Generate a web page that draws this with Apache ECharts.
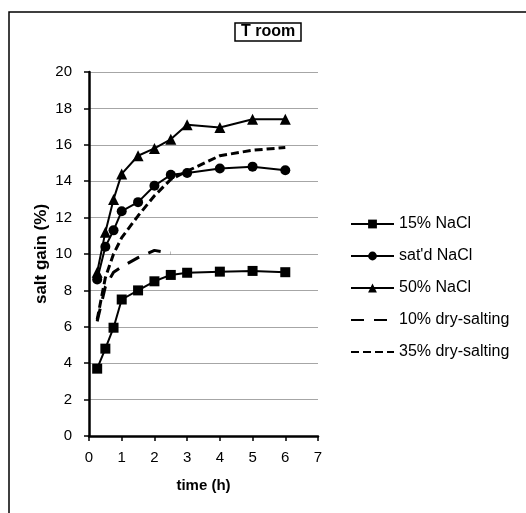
<!DOCTYPE html>
<html>
<head>
<meta charset="utf-8">
<script src="https://cdn.jsdelivr.net/npm/echarts@6/dist/echarts.min.js"></script>
<style>
  html, body { margin: 0; padding: 0; background: #fff; }
  #chart-container { width: 526px; height: 513px; }
</style>
</head>
<body>
<div id="chart-container"></div>
<script>
var dom = document.getElementById("chart-container");
var myChart = echarts.init(dom, null, { renderer: "canvas" });

// sampling times (h)
const times = [0.25, 0.5, 0.75, 1, 1.5, 2, 2.5, 3, 4, 5, 6];
const timesDry10 = [0.25, 0.5, 0.75, 1, 1.5, 2, 2.5];

// salt gain (%)
const nacl15 = [3.7, 4.8, 5.95, 7.5, 8.0, 8.5, 8.85, 8.97, 9.03, 9.07, 9.0];
const nacl_satd = [8.6, 10.4, 11.3, 12.35, 12.85, 13.75, 14.35, 14.45, 14.7, 14.8, 14.6];
const nacl50 = [9.0, 11.2, 13.0, 14.4, 15.4, 15.8, 16.3, 17.1, 16.95, 17.4, 17.4];
const dry10 = [6.3, 8.2, 9.0, 9.3, 9.8, 10.2, 10.05];
const dry35 = [6.4, 8.7, 10.0, 10.9, 12.1, 13.2, 14.1, 14.55, 15.4, 15.7, 15.85];

const seriesNames = ["15% NaCl", "sat'd NaCl", "50% NaCl", "10% dry-salting", "35% dry-salting"];

function pairs(xs, ys) {
  return ys.map((y, i) => [xs[i], y]);
}

const font = "Liberation Sans, Arial, sans-serif";

// dashed series get no marker in the legend
const legendData = seriesNames.map((n, i) =>
  i < 3 ? { name: n } : { name: n, itemStyle: { opacity: 0 } }
);

var option = {
  animation: false,
  backgroundColor: "#fff",
  textStyle: { fontFamily: font },
  title: {
    text: "T room",
    left: 235,
    top: 23,
    padding: [1, 6],
    borderColor: "#000",
    borderWidth: 1.5,
    textStyle: { fontSize: 16, fontWeight: "bold", color: "#000", fontFamily: font },
  },
  graphic: [
    {
      type: "rect",
      shape: { x: 9, y: 12, width: 530, height: 520 },
      style: { fill: null, stroke: "#000", lineWidth: 1.5 },
      silent: true,
    },
  ],
  grid: { left: 89, right: 208, top: 72, bottom: 77 },
  legend: {
    orient: "vertical",
    left: 345,
    top: 211,
    itemWidth: 43,
    itemHeight: 11,
    itemGap: 16,
    textStyle: { fontSize: 16, color: "#000", fontFamily: font },
    data: legendData,
  },
  xAxis: {
    type: "value",
    min: 0,
    max: 7,
    interval: 1,
    name: "time (h)",
    nameLocation: "middle",
    nameGap: 42,
    nameTextStyle: { fontSize: 15, fontWeight: "bold", color: "#000" },
    axisLine: { lineStyle: { color: "#000", width: 2.5 } },
    axisTick: { length: 5, lineStyle: { color: "#000", width: 1.5 } },
    axisLabel: { fontSize: 15, color: "#000", margin: 14 },
    splitLine: { show: false },
  },
  yAxis: {
    type: "value",
    min: 0,
    max: 20,
    interval: 2,
    name: "salt gain (%)",
    nameLocation: "middle",
    nameGap: 39,
    nameTextStyle: { fontSize: 17, fontWeight: "bold", color: "#000" },
    axisLine: { show: true, lineStyle: { color: "#000", width: 2.5 } },
    axisTick: { show: true, length: 5, lineStyle: { color: "#000", width: 1.5 } },
    axisLabel: { fontSize: 15, color: "#000", margin: 17 },
    splitLine: { lineStyle: { color: "#a6a6a6", width: 1 } },
  },
  series: [
    {
      name: seriesNames[0],
      type: "line",
      data: pairs(times, nacl15),
      symbol: "rect",
      symbolSize: 10,
      itemStyle: { color: "#000" },
      lineStyle: { color: "#000", width: 2 },
    },
    {
      name: seriesNames[1],
      type: "line",
      data: pairs(times, nacl_satd),
      symbol: "circle",
      symbolSize: 10,
      itemStyle: { color: "#000" },
      lineStyle: { color: "#000", width: 2 },
    },
    {
      name: seriesNames[2],
      type: "line",
      data: pairs(times, nacl50),
      symbol: "triangle",
      symbolSize: 11,
      itemStyle: { color: "#000" },
      lineStyle: { color: "#000", width: 2 },
    },
    {
      name: seriesNames[3],
      type: "line",
      data: pairs(timesDry10, dry10),
      symbol: "none",
      itemStyle: { color: "#000" },
      lineStyle: { color: "#000", width: 3, type: [13, 10] },
    },
    {
      name: seriesNames[4],
      type: "line",
      data: pairs(times, dry35),
      symbol: "none",
      itemStyle: { color: "#000" },
      lineStyle: { color: "#000", width: 3, type: [8, 4] },
    },
  ],
};

myChart.setOption(option);
window.addEventListener("resize", myChart.resize);
</script>
</body>
</html>
